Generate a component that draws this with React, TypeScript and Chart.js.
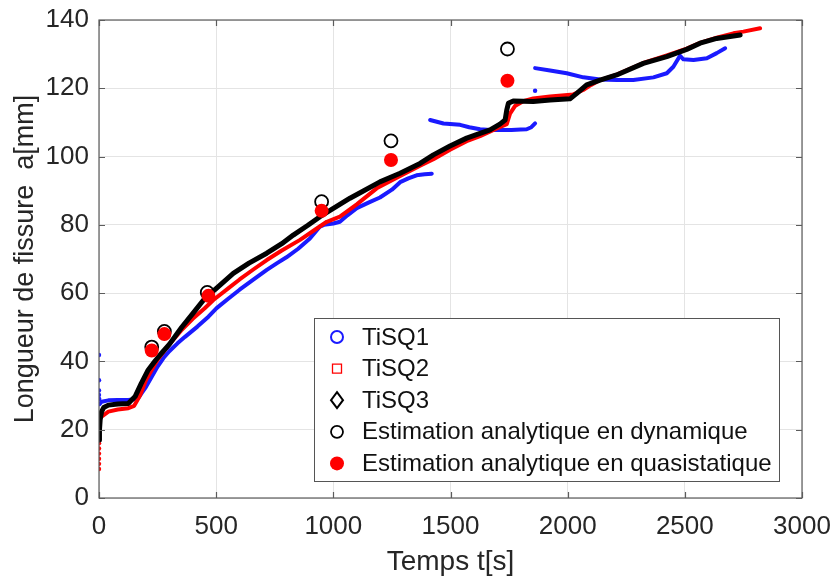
import { useEffect, useRef } from 'react';
import { Chart, registerables } from 'chart.js';

Chart.register(...registerables);

const xTicks = [0, 500, 1000, 1500, 2000, 2500, 3000];
const yTicks = [0, 20, 40, 60, 80, 100, 120, 140];
const xTitle = 'Temps t[s]';
const yTitle = 'Longueur de fissure  a[mm]';
const legendLabels = [
  'TiSQ1',
  'TiSQ2',
  'TiSQ3',
  'Estimation analytique en dynamique',
  'Estimation analytique en quasistatique',
];

// TiSQ1 (blue) – three separate segments
const tisq1Seg1T = [3, 11, 40, 80, 125, 150, 168, 185, 200, 225, 250, 275, 300, 335, 367, 420, 467, 502, 550, 600, 660, 716, 760, 800, 850, 900, 943, 960, 1000, 1028, 1060, 1100, 1150, 1199, 1250, 1285, 1320, 1355, 1390, 1420];
const tisq1Seg1A = [27.5, 28.2, 28.6, 28.7, 28.7, 28.9, 29.3, 31, 32.5, 35.5, 38.5, 41, 43, 45.3, 47.2, 50.2, 53.1, 55.6, 58.3, 61, 64, 66.8, 68.8, 70.5, 73, 76, 79.5, 80, 80.4, 80.9, 82.8, 84.9, 86.5, 88, 90.3, 92.5, 93.6, 94.5, 94.8, 95];
const tisq1Seg2T = [1413, 1470, 1541, 1580, 1626, 1670, 1711, 1760, 1800, 1825, 1845, 1861];
const tisq1Seg2A = [110.7, 109.7, 109.3, 108.6, 108, 107.8, 107.8, 107.8, 107.9, 108, 108.6, 109.7];
const tisq1Seg3T = [1861, 1925, 1996, 2067, 2138, 2210, 2280, 2366, 2423, 2451, 2473, 2480, 2494, 2537, 2594, 2636, 2672];
const tisq1Seg3A = [125.9, 125.2, 124.4, 123.2, 122.6, 122.4, 122.4, 123.2, 124.4, 126.3, 128.8, 129.5, 128.5, 128.3, 128.8, 130.3, 131.7];
const tisq1DotsT = [0, 0, 0, 0, 1, 1861];
const tisq1DotsA = [41.9, 34.5, 31.5, 30.2, 29, 119.3];

// TiSQ2 (red)
const tisq2T = [2, 11, 40, 80, 125, 150, 175, 200, 250, 300, 350, 400, 450, 488, 550, 600, 660, 716, 780, 858, 920, 972, 1028, 1100, 1185, 1285, 1370, 1427, 1498, 1569, 1626, 1700, 1740, 1754, 1775, 1810, 1853, 1925, 2024, 2066, 2100, 2138, 2209, 2323, 2423, 2508, 2565, 2636, 2707, 2750, 2821];
const tisq2A = [23, 23.8, 25.3, 25.9, 26.3, 27, 30, 34.5, 40.5, 45, 49, 52.5, 55.5, 58, 61.3, 64, 67, 69.7, 72.5, 75.6, 78.5, 80.9, 82.4, 86, 90.7, 94.3, 97.3, 99.2, 102, 104.5, 106, 108.3, 109.5, 112.6, 114.8, 116.2, 117, 117.6, 118.2, 119.5, 121, 122.4, 124, 127.4, 129.6, 131.6, 133.3, 134.8, 136.1, 136.6, 137.6];
const tisq2DotsT = [0, 0, 0, 0, 0, 0, 0];
const tisq2DotsA = [8.5, 10, 11.5, 13, 14.5, 16, 18];

// TiSQ3 (black)
const tisq3T = [0, 2, 5, 11, 20, 40, 80, 125, 154, 180, 210, 240, 267, 300, 353, 400, 452, 502, 573, 640, 716, 780, 829, 890, 943, 1000, 1071, 1130, 1199, 1285, 1370, 1427, 1498, 1569, 1626, 1669, 1711, 1733, 1740, 1747, 1768, 1853, 1925, 2010, 2039, 2081, 2138, 2209, 2323, 2423, 2508, 2565, 2636, 2736];
const tisq3A = [17, 20, 23, 25.3, 26.5, 27.2, 27.5, 27.7, 29.7, 33.5, 37.5, 40.2, 42.4, 45, 50, 54, 58.5, 61.5, 65.8, 68.8, 71.7, 74.5, 77, 79.8, 82.4, 84.8, 87.8, 90, 92.6, 95.1, 98, 100.5, 103.1, 105.4, 106.8, 107.8, 109.5, 110.7, 113.6, 115.6, 116.3, 116.1, 116.6, 116.9, 118.5, 121, 122.4, 123.9, 127.3, 129.3, 131.4, 133.2, 134.6, 135.6];

// Analytical estimations
const dynT = [225, 279, 462, 950, 1246, 1743];
const dynA = [44.2, 48.8, 60.2, 86.8, 104.6, 131.5];
const quasiT = [225, 279, 467, 950, 1246, 1743];
const quasiA = [43.2, 48.0, 59.2, 84.1, 99.0, 122.2];

const BLUE = '#1a1aff';
const RED = '#ff0000';
const BLACK = '#000000';
const FONT = '"Liberation Sans", Arial, sans-serif';
const TEXT = '#262626';

const zip = (t: number[], a: number[]) => t.map((v, i) => ({ x: v, y: a[i] }));

const framePlugin = {
  id: 'frameLegend',
  afterDraw(chart: any) {
    const { ctx, chartArea, scales } = chart;
    const { left, right, top, bottom } = chartArea;
    const xs = scales.x;
    const ys = scales.y;
    ctx.save();
    // box
    ctx.strokeStyle = '#5c5c5c';
    ctx.lineWidth = 1.2;
    ctx.strokeRect(left, top, right - left, bottom - top);
    // inward ticks
    const tl = 6;
    ctx.beginPath();
    xTicks.forEach((v) => {
      const px = Math.round(xs.getPixelForValue(v)) + 0.5;
      ctx.moveTo(px, bottom);
      ctx.lineTo(px, bottom - tl);
      ctx.moveTo(px, top);
      ctx.lineTo(px, top + tl);
    });
    yTicks.forEach((v) => {
      const py = Math.round(ys.getPixelForValue(v)) + 0.5;
      ctx.moveTo(left, py);
      ctx.lineTo(left + tl, py);
      ctx.moveTo(right, py);
      ctx.lineTo(right - tl, py);
    });
    ctx.stroke();

    // legend box
    const bx = right - 488;
    const by = bottom - 180;
    const bw = 465;
    const bh = 163;
    ctx.fillStyle = '#ffffff';
    ctx.fillRect(bx, by, bw, bh);
    ctx.strokeStyle = '#555555';
    ctx.lineWidth = 1;
    ctx.strokeRect(bx + 0.5, by + 0.5, bw, bh);
    const sx = bx + 23;
    const tx = bx + 48;
    ctx.font = `24px ${FONT}`;
    ctx.textBaseline = 'middle';
    ctx.textAlign = 'left';
    legendLabels.forEach((label, i) => {
      const cy = by + 19 + i * 31.6;
      ctx.beginPath();
      if (i === 0) {
        ctx.strokeStyle = BLUE;
        ctx.lineWidth = 2;
        ctx.arc(sx, cy, 6, 0, Math.PI * 2);
        ctx.stroke();
      } else if (i === 1) {
        ctx.strokeStyle = RED;
        ctx.lineWidth = 1.3;
        ctx.rect(sx - 4.5, cy - 4.5, 9, 9);
        ctx.stroke();
      } else if (i === 2) {
        ctx.strokeStyle = BLACK;
        ctx.lineWidth = 2;
        ctx.moveTo(sx, cy - 8);
        ctx.lineTo(sx + 6, cy);
        ctx.lineTo(sx, cy + 8);
        ctx.lineTo(sx - 6, cy);
        ctx.closePath();
        ctx.stroke();
      } else if (i === 3) {
        ctx.strokeStyle = BLACK;
        ctx.lineWidth = 1.8;
        ctx.arc(sx, cy, 6, 0, Math.PI * 2);
        ctx.stroke();
      } else {
        ctx.fillStyle = RED;
        ctx.arc(sx, cy, 7, 0, Math.PI * 2);
        ctx.fill();
      }
      ctx.fillStyle = '#111111';
      ctx.fillText(label, tx, cy + 1);
    });
    ctx.restore();
  },
};

export default function App() {
  const canvasRef = useRef<HTMLCanvasElement | null>(null);

  useEffect(() => {
    document.body.style.margin = '0';
    const canvas = canvasRef.current;
    if (!canvas) return;
    const lineDs = (label: string, data: any[], color: string, width: number, order: number) => ({
      label,
      data,
      showLine: true,
      borderColor: color,
      backgroundColor: color,
      borderWidth: width,
      pointRadius: 0,
      order,
      borderJoinStyle: 'round' as const,
      borderCapStyle: 'round' as const,
    });
    const dotDs = (label: string, data: any[], color: string, order: number) => ({
      label,
      data,
      showLine: false,
      pointRadius: 2.2,
      pointBorderWidth: 0,
      pointBackgroundColor: color,
      pointBorderColor: color,
      order,
    });
    const chart = new Chart(canvas, {
      type: 'scatter',
      data: {
        datasets: [
          {
            label: legendLabels[4],
            data: zip(quasiT, quasiA),
            pointRadius: 7,
            pointBackgroundColor: RED,
            pointBorderColor: RED,
            pointBorderWidth: 0,
            order: 0,
          } as any,
          {
            label: legendLabels[3],
            data: zip(dynT, dynA),
            pointRadius: 6.5,
            pointBackgroundColor: 'rgba(0,0,0,0)',
            pointBorderColor: BLACK,
            pointBorderWidth: 1.8,
            order: 1,
          } as any,
          lineDs(legendLabels[2], zip(tisq3T, tisq3A), BLACK, 5, 2),
          lineDs(legendLabels[1], zip(tisq2T, tisq2A), RED, 4, 3),
          dotDs('TiSQ2 points', zip(tisq2DotsT, tisq2DotsA), RED, 4),
          lineDs(legendLabels[0], zip(tisq1Seg1T, tisq1Seg1A), BLUE, 4, 5),
          lineDs('TiSQ1 b', zip(tisq1Seg2T, tisq1Seg2A), BLUE, 4, 5),
          lineDs('TiSQ1 c', zip(tisq1Seg3T, tisq1Seg3A), BLUE, 4, 5),
          dotDs('TiSQ1 points', zip(tisq1DotsT, tisq1DotsA), BLUE, 6),
        ] as any,
      },
      options: {
        animation: false,
        responsive: true,
        maintainAspectRatio: false,
        events: [],
        layout: { padding: { top: 20, right: 34, left: 0, bottom: 0 } },
        plugins: {
          legend: { display: false },
          tooltip: { enabled: false },
        },
        scales: {
          x: {
            type: 'linear',
            min: 0,
            max: 3000,
            afterBuildTicks: (s: any) => {
              s.ticks = xTicks.map((v) => ({ value: v }));
            },
            afterFit: (s: any) => {
              s.height = 83;
              s.paddingLeft = 0;
              s.paddingRight = 0;
            },
            grid: { color: '#e4e4e4', lineWidth: 1, drawTicks: false },
            border: { display: false },
            ticks: {
              padding: 13,
              color: TEXT,
              font: { family: FONT, size: 26 },
              maxRotation: 0,
              autoSkip: false,
              callback: (v: any) => String(v),
            },
            title: {
              display: true,
              text: xTitle,
              color: TEXT,
              font: { family: FONT, size: 28 },
              padding: { top: 0, bottom: 2 },
            },
          },
          y: {
            type: 'linear',
            min: 0,
            max: 140,
            afterBuildTicks: (s: any) => {
              s.ticks = yTicks.map((v) => ({ value: v }));
            },
            afterFit: (s: any) => {
              s.width = 99;
              s.paddingTop = 0;
              s.paddingBottom = 0;
            },
            grid: { color: '#e4e4e4', lineWidth: 1, drawTicks: false },
            border: { display: false },
            ticks: {
              padding: 10,
              color: TEXT,
              font: { family: FONT, size: 26 },
              autoSkip: false,
              callback: (v: any) => String(v),
            },
            title: {
              display: true,
              text: yTitle,
              color: TEXT,
              font: { family: FONT, size: 27 },
              padding: { top: 9, bottom: 0 },
            },
          },
        },
      },
      plugins: [framePlugin],
    });
    return () => chart.destroy();
  }, []);

  return (
    <div style={{ width: 836, height: 581, position: 'relative', background: '#fff' }}>
      <canvas ref={canvasRef} />
    </div>
  );
}
